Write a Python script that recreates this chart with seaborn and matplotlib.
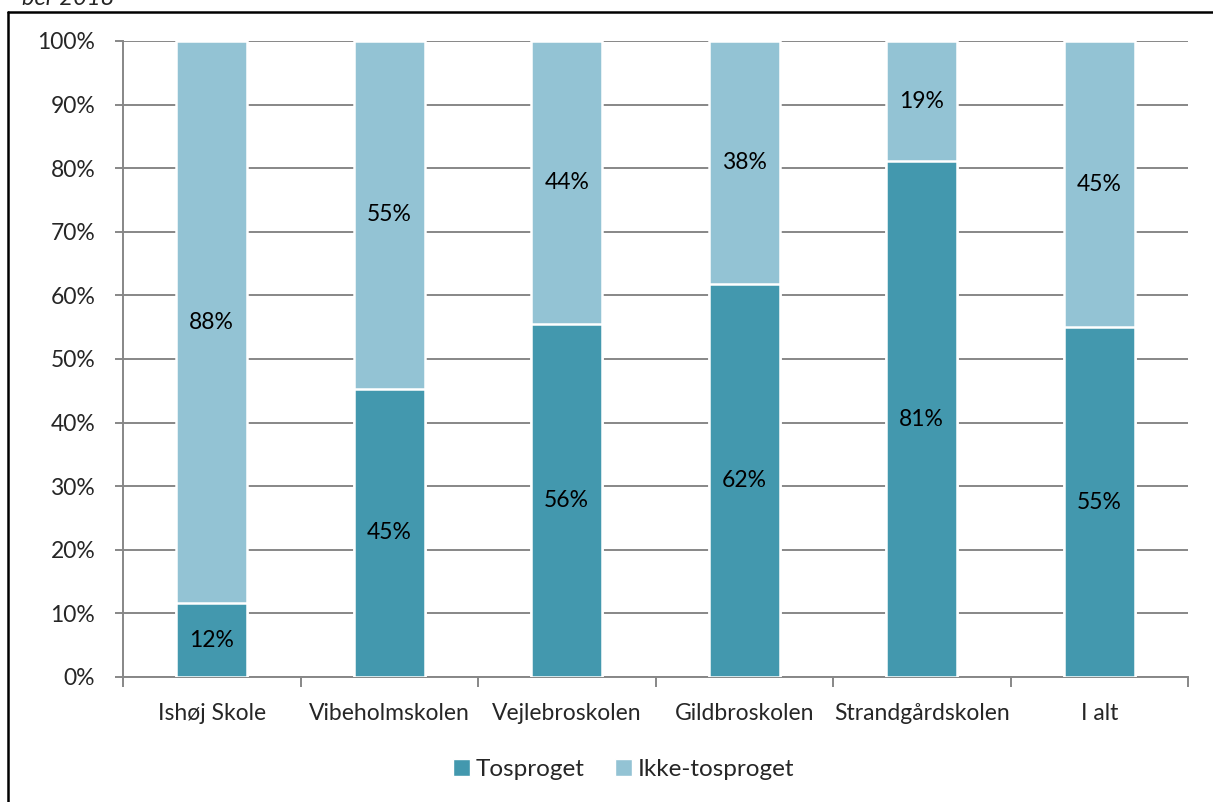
import pandas as pd
import matplotlib.pyplot as plt
import seaborn as sns
from matplotlib.lines import Line2D
from matplotlib.patches import Patch

# Data
schools = ["Ishøj Skole", "Vibeholmskolen", "Vejlebroskolen",
           "Gildbroskolen", "Strandgårdskolen", "I alt"]
tosproget = [11.6, 45.3, 55.5, 61.8, 81.1, 55.0]
ikke_tosproget = [88.4, 54.7, 44.5, 38.2, 18.9, 45.0]
tos_labels = ["12%", "45%", "56%", "62%", "81%", "55%"]
ikke_labels = ["88%", "55%", "44%", "38%", "19%", "45%"]

dark = "#4398ae"
light = "#93c3d4"
grid = "#878787"

df = pd.DataFrame({"school": schools, "tos": tosproget, "ikke": ikke_tosproget})
df["total"] = df["tos"] + df["ikke"]

sns.set_style("white")
plt.rcParams["font.family"] = ["Lato", "DejaVu Sans"]

fig = plt.figure(figsize=(12.13, 8.02), dpi=100)
ax = fig.add_axes([0.1014, 0.1559, 0.8780, 0.7930])

# stacked bars: full bar in light, lower part in dark
sns.barplot(data=df, x="school", y="total", color=light, width=0.4,
            edgecolor="white", linewidth=1.8, saturation=1, ax=ax, zorder=3)
sns.barplot(data=df, x="school", y="tos", color=dark, width=0.4,
            edgecolor="white", linewidth=1.8, saturation=1, ax=ax, zorder=4)

for i in range(len(schools)):
    ax.text(i, tosproget[i] / 2, tos_labels[i], ha="center", va="center",
            fontsize=16.5, color="black", zorder=5)
    ax.text(i, tosproget[i] + ikke_tosproget[i] / 2, ikke_labels[i],
            ha="center", va="center", fontsize=16.5, color="black", zorder=5)

ax.set_xlim(-0.5, len(schools) - 0.5)
ax.set_ylim(0, 100)
ax.set_yticks(range(0, 101, 10))
ax.set_yticklabels([f"{v}%" for v in range(0, 101, 10)])
ax.yaxis.grid(True, color=grid, linewidth=1.4, zorder=0)
ax.set_axisbelow(True)
ax.set_xlabel("")
ax.set_ylabel("")

ax.set_xticks([i - 0.5 for i in range(len(schools) + 1)], minor=True)
ax.tick_params(axis="x", which="major", length=0, pad=19, labelsize=16.5)
ax.tick_params(axis="x", which="minor", length=7, width=1.4, color=grid,
               direction="out", bottom=True)
ax.tick_params(axis="y", length=6, width=1.4, color=grid, pad=14, labelsize=16.5,
               left=True)

for side in ["top", "right"]:
    ax.spines[side].set_visible(False)
for side in ["left", "bottom"]:
    ax.spines[side].set_color(grid)
    ax.spines[side].set_linewidth(1.4)

handles = [Patch(facecolor=dark, edgecolor="white"),
           Patch(facecolor=light, edgecolor="white")]
fig.legend(handles, ["Tosproget", "Ikke-tosproget"], loc="center",
           bbox_to_anchor=(0.514, 0.04), ncol=2, frameon=False, fontsize=17.5,
           handlelength=0.7, handleheight=0.7, columnspacing=1.25,
           handletextpad=0.25)

# outer frame (left and top edges visible)
fig.add_artist(Line2D([8 / 1213, 8 / 1213], [0, 1 - 12 / 802],
                      transform=fig.transFigure, color="black", linewidth=1.8))
fig.add_artist(Line2D([8 / 1213, 1], [1 - 12 / 802, 1 - 12 / 802],
                      transform=fig.transFigure, color="black", linewidth=1.8))
fig.text(22 / 1213, 1 - 5 / 802, "ber 2018", fontsize=17, style="italic",
         va="baseline", ha="left")

fig.savefig("out.png", dpi=100)
